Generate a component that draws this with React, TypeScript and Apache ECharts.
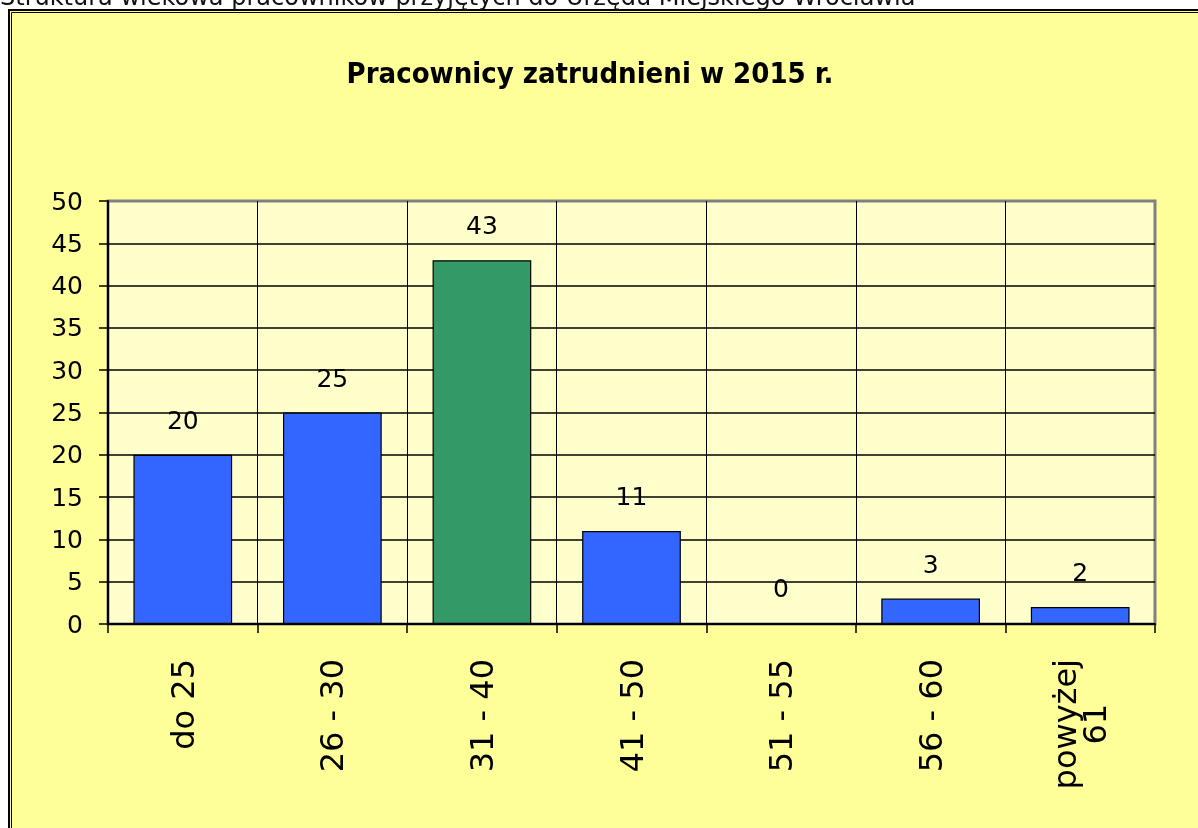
import React, { useEffect, useRef } from "react";
import * as echarts from "echarts";

const pageCaption = "Struktura wiekowa pracowników przyjętych do Urzędu Miejskiego Wrocławia";
const chartTitle = "Pracownicy zatrudnieni w 2015 r.";
const categories = ["do 25", "26 - 30", "31 - 40", "41 - 50", "51 - 55", "56 - 60", "powyżej\n61"];
const values = [20, 25, 43, 11, 0, 3, 2];
const barColors = ["#3366FF", "#3366FF", "#339966", "#3366FF", "#3366FF", "#3366FF", "#3366FF"];
const yMin = 0;
const yMax = 50;
const yStep = 5;

const FONT = "'DejaVu Sans', Verdana, sans-serif";

export default function App() {
  const ref = useRef<HTMLDivElement>(null);
  useEffect(() => {
    if (!ref.current) return;
    const chart = echarts.init(ref.current, undefined, { renderer: "svg" });
    chart.setOption({
      animation: false,
      graphic: [
        {
          type: "rect",
          z: -10,
          shape: { x: 9, y: 10, width: 1300, height: 1000 },
          style: { fill: "#FFFF99", stroke: "#000", lineWidth: 2 },
          silent: true,
        },
        {
          type: "rect",
          z: -9,
          shape: { x: 11.5, y: 12.5, width: 1300, height: 1000 },
          style: { fill: "none", stroke: "#000", lineWidth: 1 },
          silent: true,
        },
        {
          type: "text",
          x: 0,
          y: -3.5,
          style: {
            text: pageCaption,
            fontFamily: FONT,
            fontSize: 24,
            fill: "#111",
            align: "left",
            verticalAlign: "middle",
          },
        },
        {
          type: "text",
          x: 590,
          y: 73,
          style: {
            text: chartTitle,
            fontFamily: "'DejaVu Sans Condensed', 'DejaVu Sans', sans-serif",
            fontWeight: "bold",
            fontSize: 29,
            fill: "#000",
            align: "center",
            verticalAlign: "middle",
          },
        },
      ],
      grid: {
        left: 108,
        top: 201,
        width: 1047,
        height: 423,
        show: true,
        backgroundColor: "#FFFFCC",
        borderColor: "#808080",
        borderWidth: 3,
      },
      xAxis: {
        type: "category",
        data: categories,
        boundaryGap: true,
        axisLine: { show: true, lineStyle: { color: "#000", width: 2 } },
        axisTick: { show: true, interval: 0, length: 9, lineStyle: { color: "#000", width: 1.5 } },
        splitLine: {
          show: true,
          interval: 0,
          showMinLine: false,
          showMaxLine: false,
          lineStyle: { color: "#000", width: 1 },
        },
        axisLabel: {
          interval: 0,
          rotate: 90,
          margin: 35,
          formatter: (v: string) =>
            v
              .split("\n")
              .map((s) => `{c|${s}}`)
              .join("\n"),
          rich: {
            c: {
              fontFamily: FONT,
              fontSize: 32,
              color: "#000",
              align: "center",
              lineHeight: 30,
            },
          },
        },
      },
      yAxis: {
        type: "value",
        min: yMin,
        max: yMax,
        interval: yStep,
        axisLine: { show: true, lineStyle: { color: "#000", width: 2 } },
        axisTick: { show: true, length: 9, lineStyle: { color: "#000", width: 1.5 } },
        splitLine: {
          show: true,
          showMinLine: false,
          showMaxLine: false,
          lineStyle: { color: "#000", width: 1.6 },
        },
        axisLabel: {
          margin: 25,
          fontFamily: FONT,
          fontSize: 25,
          color: "#000",
        },
      },
      series: [
        {
          type: "bar",
          barWidth: "66%",
          data: values.map((v, i) => ({ value: v, itemStyle: { color: barColors[i] } })),
          itemStyle: { borderColor: "#000", borderWidth: 1.2 },
          label: {
            show: true,
            position: "top",
            distance: 22,
            fontFamily: FONT,
            fontSize: 25,
            color: "#000",
          },
        },
      ],
    });
    return () => chart.dispose();
  }, []);
  return (
    <div
      ref={ref}
      style={{ position: "fixed", left: 0, top: 0, width: 1198, height: 828 }}
    />
  );
}
